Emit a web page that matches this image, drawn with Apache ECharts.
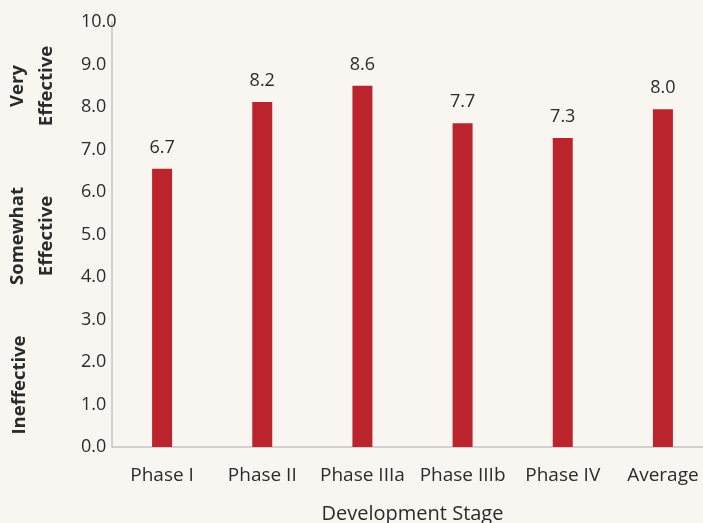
<!DOCTYPE html>
<html>
<head>
<meta charset="utf-8">
<script src="https://cdn.jsdelivr.net/npm/echarts@6/dist/echarts.min.js"></script>
<style>
  html, body { margin: 0; padding: 0; background: #f9f6f1; }
  #grafica { width: 703px; height: 523px; }
</style>
</head>
<body>
<div id="grafica"></div>
<script>
// Datos de la grafica
const categorias = ['Phase I', 'Phase II', 'Phase IIIa', 'Phase IIIb', 'Phase IV', 'Average'];
// altura de las barras
const valores = [6.55, 8.12, 8.5, 7.62, 7.27, 7.95];
// etiquetas que aparecen encima de cada barra
const etiquetas = ['6.7', '8.2', '8.6', '7.7', '7.3', '8.0'];
const bandas = [
    { texto: 'Very\nEffective', x: 32, y: 86 },
    { texto: 'Somewhat\nEffective', x: 32, y: 236 },
    { texto: 'Ineffective', x: 20, y: 385 }
];

const fuente = '"Open Sans", "Noto Sans", sans-serif';
const colorTexto = '#2b2b2b';

const myChart = echarts.init(document.getElementById('grafica'));

let option = {
    backgroundColor: '#f9f6f1',
    textStyle: { fontFamily: fuente },
    grid: {
        left: 112,
        top: 22,
        width: 601,
        bottom: 76,
        outerBoundsMode: 'none'
    },
    // textos girados a la izquierda
    graphic: bandas.map(b => ({
        type: 'text',
        x: b.x,
        y: b.y,
        rotation: Math.PI / 2,
        style: {
            text: b.texto,
            align: 'center',
            verticalAlign: 'middle',
            font: 'bold 18.5px ' + fuente,
            lineHeight: 29,
            fill: colorTexto
        }
    })),
    xAxis: {
        type: 'category',
        data: categorias,
        name: 'Development Stage',
        nameLocation: 'middle',
        nameGap: 57,
        nameTextStyle: { fontSize: 20, color: colorTexto },
        axisTick: { show: false },
        axisLine: { lineStyle: { color: '#c4c4c4', width: 1.5 } },
        axisLabel: { interval: 0, fontSize: 19, color: colorTexto, margin: 19, hideOverlap: false }
    },
    yAxis: {
        type: 'value',
        min: 0,
        max: 10,
        interval: 1,
        splitLine: { show: false },
        axisTick: { show: false },
        axisLine: { show: true, lineStyle: { color: '#c4c4c4', width: 1.5 } },
        axisLabel: {
            fontSize: 18,
            color: colorTexto,
            align: 'left',
            margin: 31,
            formatter: v => v.toFixed(1)
        }
    },
    series: [{
        type: 'bar',
        data: valores,
        barWidth: 20,
        itemStyle: { color: '#bb242d' },
        label: {
            show: true,
            position: 'top',
            distance: 12,
            fontSize: 18,
            color: colorTexto,
            formatter: p => etiquetas[p.dataIndex]
        }
    }]
};

myChart.setOption(option);
</script>
</body>
</html>
